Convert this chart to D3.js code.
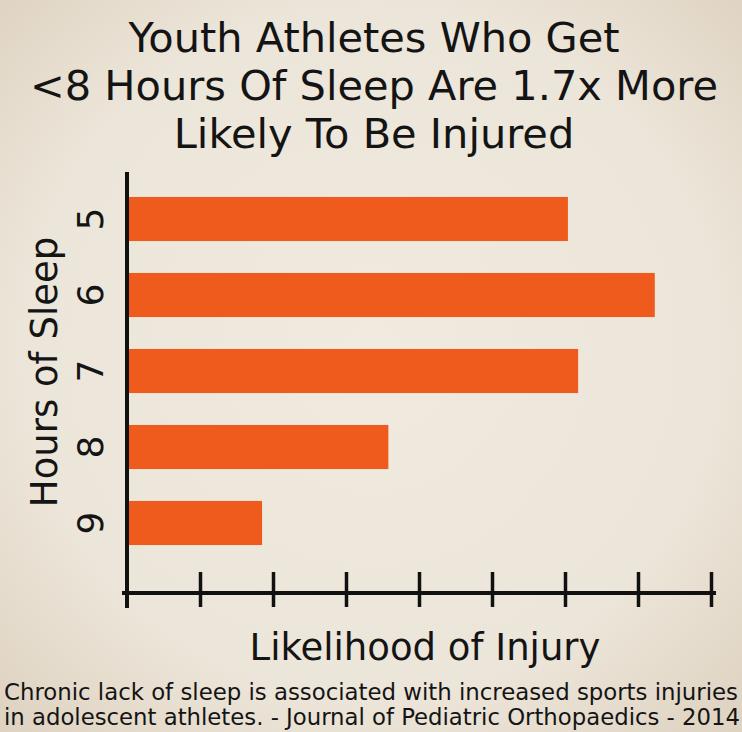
<!DOCTYPE html>
<html><head><meta charset="utf-8">
<script src="https://cdn.jsdelivr.net/npm/d3@7"></script>
<style>
html,body{margin:0;padding:0;background:#ebe3d5;}
svg{display:block;}
</style></head>
<body>
<svg id="chart" width="742" height="732"></svg>
<script>
const titleLines = ["Youth Athletes Who Get", "<8 Hours Of Sleep Are 1.7x More", "Likely To Be Injured"];
const categories = ["5", "6", "7", "8", "9"];
const values = [6.04, 7.23, 6.18, 3.58, 1.85];
const xTicks = [1, 2, 3, 4, 5, 6, 7, 8];
const yTitle = "Hours of Sleep";
const xTitle = "Likelihood of Injury";
const footnote = ["Chronic lack of sleep is associated with increased sports injuries", "in adolescent athletes. - Journal of Pediatric Orthopaedics - 2014"];

const svg = d3.select("#chart");
const W = 742, H = 732;
const defs = svg.append("defs");
const rg = defs.append("radialGradient").attr("id","bg").attr("cx","50%").attr("cy","48%").attr("r","72%");
rg.append("stop").attr("offset","0%").attr("stop-color","#f0eadf");
rg.append("stop").attr("offset","65%").attr("stop-color","#ece5d9");
rg.append("stop").attr("offset","100%").attr("stop-color","#ded2c0");
svg.append("rect").attr("width",W).attr("height",H).attr("fill","url(#bg)");

const x = d3.scaleLinear().domain([0, 8]).range([127, 711]);
const y = d3.scaleBand().domain(categories).range([181, 561]).paddingInner(0.42).paddingOuter(0.21);

const font = "'DejaVu Sans', Verdana, sans-serif";

// title
svg.append("g").selectAll("text").data(titleLines).join("text")
  .attr("x", 374).attr("y", (d,i) => 52 + i*48)
  .attr("text-anchor","middle")
  .style("font-family", font)
  .style("font-size","41.5px").attr("fill","#141414").text(d => d);

// bars
svg.append("g").selectAll("rect").data(values).join("rect")
  .attr("x", x(0) + 2)
  .attr("y", (d,i) => y(categories[i]))
  .attr("width", d => x(d) - x(0) - 2)
  .attr("height", y.bandwidth())
  .attr("fill", "#ef5a1d");

// x axis
const xAxis = d3.axisBottom(x).tickValues(xTicks).tickSize(0).tickFormat("");
const gx = svg.append("g").attr("transform","translate(0,593)").call(xAxis);
gx.select(".domain").remove();
gx.append("line").attr("x1",122).attr("x2",716).attr("y1",0).attr("y2",0).attr("stroke","#111").attr("stroke-width",4);
gx.selectAll(".tick").append("line").attr("y1",-21).attr("y2",14).attr("stroke","#111").attr("stroke-width",3.5);

// y axis
const yAxis = d3.axisLeft(y).tickSize(0).tickFormat("");
const gy = svg.append("g").attr("transform","translate(127,0)").call(yAxis);
gy.select(".domain").remove();
gy.append("line").attr("x1",0).attr("x2",0).attr("y1",172).attr("y2",608).attr("stroke","#111").attr("stroke-width",4);
gy.selectAll(".tick").append("text")
  .attr("transform","translate(-37,0) rotate(-90)")
  .attr("text-anchor","middle").attr("dy","0.36em")
  .style("font-family", font)
  .style("font-size","36px").attr("fill","#141414")
  .text(d => d);

// axis titles
svg.append("text").attr("transform","translate(57,372) rotate(-90)")
  .attr("text-anchor","middle")
  .style("font-family", font)
  .style("font-size","37px").attr("fill","#141414").text(yTitle);
svg.append("text").attr("x",425).attr("y",660).attr("text-anchor","middle")
  .style("font-family", font)
  .style("font-size","37px").attr("fill","#141414").text(xTitle);

// footnote
svg.append("g").selectAll("text").data(footnote).join("text")
  .attr("x", 4).attr("y", (d,i) => 700 + i*25)
  .attr("textLength", (d,i) => i === 0 ? 734 : 736)
  .attr("lengthAdjust","spacingAndGlyphs")
  .style("font-family","'DejaVu Sans Condensed', 'DejaVu Sans', sans-serif")
  .style("font-stretch","condensed")
  .style("font-size","23px").attr("fill","#141414").text(d => d);
</script>
</body></html>
